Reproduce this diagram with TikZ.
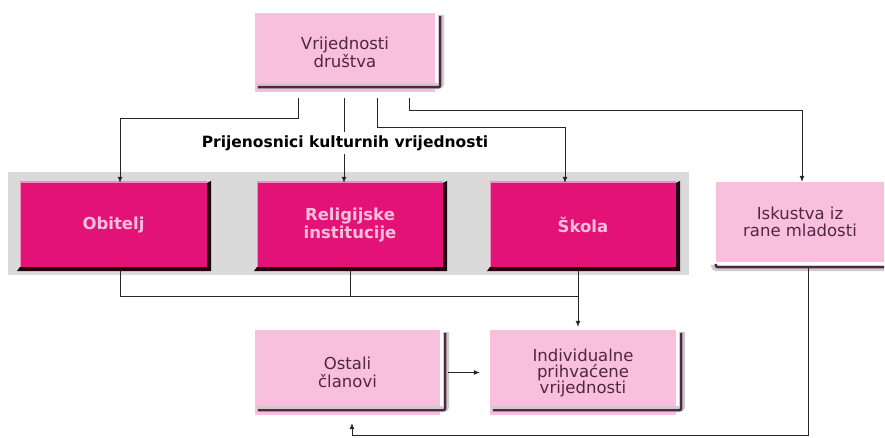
\documentclass[tikz,border=0pt]{standalone}
\usepackage{fontspec}
\setmainfont{DejaVu Sans}
\usepackage{tikz}
\usetikzlibrary{positioning,calc,arrows.meta}
\definecolor{magbox}{RGB}{226,18,118}
\definecolor{lightpink}{RGB}{248,192,220}
\definecolor{darkplum}{RGB}{80,38,68}
\definecolor{bandgray}{RGB}{218,218,218}
\tikzset{lightbox/.style={fill=lightpink, inner sep=2pt, align=center, text=darkplum, font=\fontsize{16.5}{17.5}\selectfont}}
\tikzset{magentabox/.style={fill=magbox, inner sep=2pt, align=center, text=lightpink, font=\bfseries\fontsize{16.5}{18}\selectfont}}
\tikzset{arr/.style={draw=black!85, -{Latex[length=6pt,width=5pt]}, line width=0.8pt}}
\tikzset{lin/.style={draw=black!85, line width=0.8pt}}
\newcommand\plumframe[1]{
			\draw[line width=6pt, gray!40, rounded corners=3pt] ($(#1.south west)+(2,-6)$) -- ($(#1.south east)+(6,-6)$) -- ($(#1.north east)+(6,2)$);
			\draw[line width=2.4pt, darkplum, rounded corners=2pt] ($(#1.south west)+(3,-5)$) -- ($(#1.south east)+(5,-5)$) -- ($(#1.north east)+(5,3)$);
			}
\newcommand\bevel[1]{
			\fill[black!85!magbox] (#1.north east) -- ++(4,-2) |- ($(#1.south west)+(-3,4)$) -- (#1.south west) -- (#1.south east) -- cycle;
			\draw[lightpink!70!magbox, line width=1.5pt] ($(#1.south west)+(0.75,0)$) |- ($(#1.north east)+(0,-0.75)$);
			}

\begin{document}
\begin{tikzpicture}[x=1pt, y=-1pt]
		\useasboundingbox[fill=white] (0,0) rectangle (885,438);
		\fill[bandgray] (8,172) rectangle (689,275);
		% boxes
		\node[lightbox, minimum width=180pt, minimum height=79pt] (drustvo) at (345,52.5) {Vrijednosti\\društva};
		\node[magentabox, minimum width=187pt, minimum height=84pt] (obitelj) at (113.5,225) {Obitelj};
		\node[magentabox, minimum width=186pt, minimum height=84pt] (religija) at (350,225) {Religijske\\institucije};
		\node[magentabox, minimum width=186pt, minimum height=84pt] (skola) at (583,225) {Škola};
		\node[lightbox, minimum width=168pt, minimum height=80pt] (iskustva) at (800,222) {Iskustva iz\\rane mladosti};
		\node[lightbox, minimum width=185pt, minimum height=85pt] (ostali) at (347.5,372.5) {Ostali\\članovi};
		\node[lightbox, minimum width=186pt, minimum height=85pt, font=\fontsize{16.5}{16}\selectfont] (individ) at (583,372.5) {Individualne\\prihvaćene\\vrijednosti};
		\plumframe{drustvo}
		\plumframe{ostali}
		\plumframe{individ}
		\draw[line width=6pt, gray!40, rounded corners=3pt] ($(iskustva.north west)+(-2,83)$) |- ($(iskustva.south east)+(0,6)$);
		\draw[line width=2.4pt, darkplum, rounded corners=2pt] ($(iskustva.north west)+(0,82)$) |- ($(iskustva.south east)+(0,5)$);
		\bevel{obitelj}
		\bevel{religija}
		\bevel{skola}
		\node[font=\bfseries\fontsize{15.5}{17}\selectfont] (prijenos) at (345,143) {Prijenosnici kulturnih vrijednosti};
		% connectors
		\coordinate (split) at (578,296);
		\draw[arr] ($(drustvo.south -| 298,0)+(0,6)$) |- (120,118) -- (obitelj.north -| 120,0);
		\draw[lin] ($(drustvo.south -| 344,0)+(0,6)$) -- (prijenos.north -| 344,0);
		\draw[arr] (prijenos.south -| 344,0) -- (religija.north -| 344,0);
		\draw[arr] ($(drustvo.south -| 377,0)+(0,6)$) |- (565,127) -- (skola.north -| 565,0);
		\draw[arr] ($(drustvo.south -| 409,0)+(0,6)$) |- (802,110) -- (iskustva.north -| 802,0);
		\draw[lin] ($(obitelj.south -| 120,0)+(0,4)$) |- (split);
		\draw[lin] ($(religija.south -| 350,0)+(0,4)$) -- (religija.south |- split);
		\draw[lin] ($(skola.south -| split)+(0,4)$) -- (split);
		\draw[arr] (split) -- ($(individ.north -| split)+(0,-3)$);
		\draw[arr] ($(ostali.east)+(8,0)$) -- ($(individ.west)+(-10,0)$);
		\draw[arr] ($(iskustva.south -| 808,0)+(0,6)$) |- (352,435) -- ($(ostali.south -| 352,0)+(0,8)$);
	\end{tikzpicture}
\end{document}
